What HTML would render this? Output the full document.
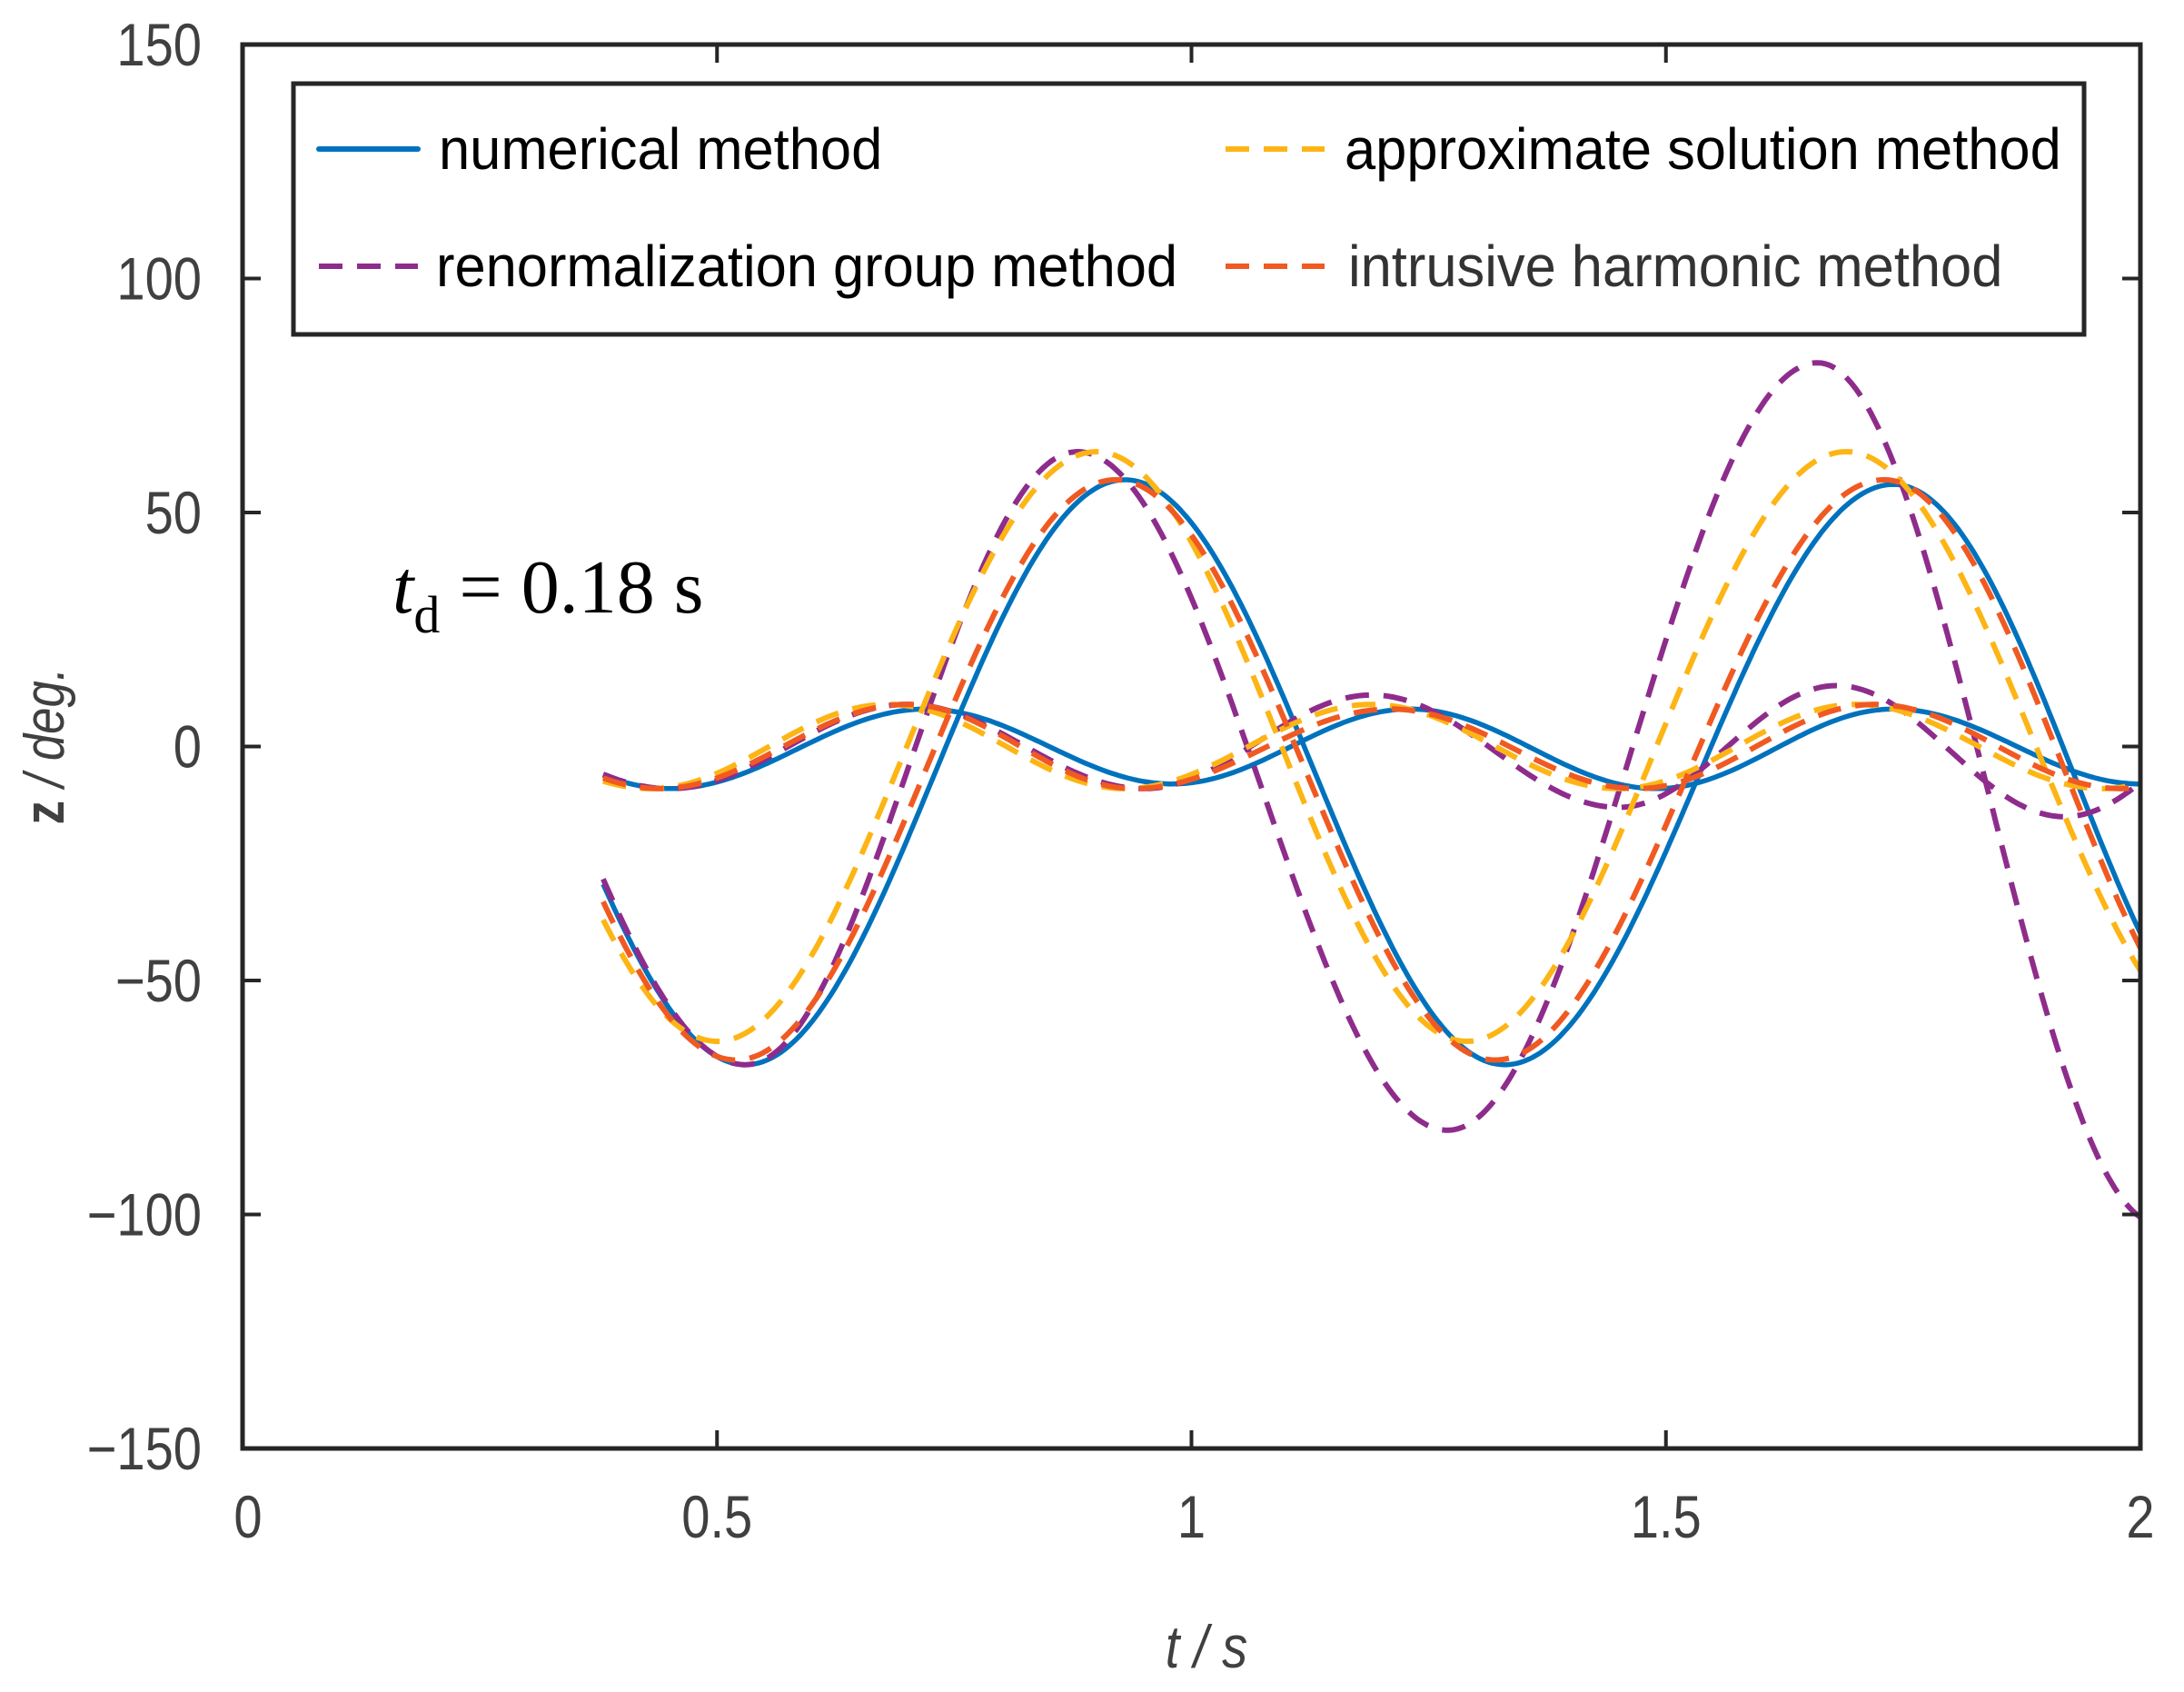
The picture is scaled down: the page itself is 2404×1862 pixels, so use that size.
<!DOCTYPE html>
<html><head><meta charset="utf-8"><style>
html,body{margin:0;padding:0;background:#fff}
svg{display:block}
</style></head><body>
<svg id="s" width="2404" height="1862" viewBox="0 0 2404 1862" xmlns="http://www.w3.org/2000/svg">
<rect width="2404" height="1862" fill="#fff"/>
<g id="curves"></g>
<g stroke="#262626" stroke-width="5" fill="none">
<rect x="267" y="49" width="2089" height="1545"/>
</g>
<g id="ticks" stroke="#262626" stroke-width="4"></g>
<g id="lbl" font-family="Liberation Sans, Arial, sans-serif" font-size="66" fill="#404040"></g>
<text transform="translate(1328,1835) scale(0.85,1)" font-family="Liberation Sans, Arial, sans-serif" font-size="66" fill="#404040" text-anchor="middle" font-style="italic">t / s</text>
<text transform="translate(70,821) rotate(-90) scale(0.85,1)" font-family="Liberation Sans, Arial, sans-serif" font-size="62" fill="#404040" text-anchor="middle"><tspan font-weight="bold">z</tspan><tspan font-style="italic"> / deg.</tspan></text>
<text x="432" y="674" font-family="Liberation Serif, Times New Roman, serif" font-size="84" fill="#000"><tspan font-style="italic">t</tspan><tspan font-size="58" dy="22">d</tspan><tspan dy="-22"> = 0.18 s</tspan></text>
<!-- legend -->
<rect x="323" y="92" width="1971" height="276" fill="#fff" stroke="#262626" stroke-width="5"/>
<g stroke-width="6" fill="none">
<line x1="351" y1="164" x2="460" y2="164" stroke="#0072BD" stroke-linecap="round"/>
<line x1="351" y1="293" x2="460" y2="293" stroke="#8E2C8C" stroke-dasharray="26,16"/>
<line x1="1349" y1="164" x2="1458" y2="164" stroke="#FDB515" stroke-dasharray="26,16"/>
<line x1="1349" y1="293" x2="1458" y2="293" stroke="#F05A22" stroke-dasharray="26,16"/>
</g>
<g font-family="Liberation Sans, Arial, sans-serif" font-size="64" fill="#000">
<text transform="translate(483,186) scale(0.96,1)">numerical method</text>
<text transform="translate(480,315) scale(0.96,1)">renormalization group method</text>
<text transform="translate(1480,186) scale(0.96,1)">approximate solution method</text>
<text transform="translate(1484,315) scale(0.96,1)" fill="#333">intrusive harmonic method</text>
</g>
</svg>
<script>
(function(){
var NS="http://www.w3.org/2000/svg";
function X(t){return 267+t*1044.5;}
function Y(z){return 821.5-z*5.15;}
var tk=document.getElementById('ticks');
function ln(x1,y1,x2,y2){var l=document.createElementNS(NS,'line');l.setAttribute('x1',x1);l.setAttribute('y1',y1);l.setAttribute('x2',x2);l.setAttribute('y2',y2);tk.appendChild(l);}
for(var v=-100;v<=100;v+=50){ln(267,Y(v),287,Y(v));ln(2356,Y(v),2336,Y(v));}
[0.5,1,1.5].forEach(function(t){ln(X(t),1594,X(t),1574);ln(X(t),49,X(t),69);});
var lb=document.getElementById('lbl');
function txt(s,x,y,anchor){var e=document.createElementNS(NS,'text');e.setAttribute('transform','translate('+x+','+y+') scale(0.85,1)');e.setAttribute('text-anchor',anchor);e.textContent=s;lb.appendChild(e);}
[150,100,50,0,-50,-100,-150].forEach(function(v){txt(v<0?'\u2212'+(-v):''+v,222,Y(v)+23,'end');});
[[0,'0'],[0.5,'0.5'],[1,'1'],[1.5,'1.5'],[2,'2']].forEach(function(a){txt(a[1],X(a[0])+(a[0]==0?6:0),1692,'middle');});
function val(ex,t){
 for(var i=0;i<ex.length-1;i++){
  var a=ex[i],b=ex[i+1];
  if(t>=a[0]&&t<=b[0]){var f=(t-a[0])/(b[0]-a[0]);return a[1]+(b[1]-a[1])*(1-Math.cos(Math.PI*f))/2;}
 }
 return ex[ex.length-1][1];
}
var g=document.getElementById('curves');
function curve(ex,color,dash){
 var d="";
 for(var t=0.38;t<=2.0001;t+=0.004){d+=(d?"L":"M")+X(t).toFixed(1)+","+Y(val(ex,t)).toFixed(1);}
 var p=document.createElementNS(NS,'path');p.setAttribute('d',d);p.setAttribute('fill','none');
 p.setAttribute('stroke',color);p.setAttribute('stroke-width',dash?6:5.5);
 if(dash)p.setAttribute('stroke-dasharray',dash);
 g.appendChild(p);
}
var blueL=[[0.13,57],[0.53,-68],[0.93,57],[1.33,-68],[1.74,56],[2.12,-68]];
var blueS=[[0.19,8],[0.45,-9],[0.72,8],[0.98,-8],[1.23,8],[1.49,-9],[1.74,8],[2.0,-8]];
var purL=[[0.14,55],[0.53,-68],[0.88,63],[1.27,-82],[1.66,82],[2.02,-102]];
var purS=[[0.2,8],[0.45,-9],[0.70,9],[0.95,-9],[1.19,11],[1.45,-13],[1.68,13],[1.92,-15],[2.15,12]];
var yelL=[[0.10,63],[0.50,-63],[0.90,63],[1.29,-63],[1.69,63],[2.09,-63]];
var yelS=[[0.17,9],[0.43,-9],[0.68,9],[0.93,-9],[1.19,9],[1.45,-9],[1.70,9],[1.96,-9],[2.2,9]];
var orL=[[0.12,57],[0.52,-67],[0.92,57],[1.32,-67],[1.73,57],[2.11,-67]];
var orS=[[0.18,9],[0.44,-9],[0.70,9],[0.94,-9],[1.21,8],[1.47,-9],[1.72,9],[1.98,-9],[2.2,9]];
curve(blueL,'#0072BD');curve(blueS,'#0072BD');
curve(purL,'#8E2C8C','26,16');curve(purS,'#8E2C8C','26,16');
curve(yelL,'#FDB515','26,16');curve(yelS,'#FDB515','26,16');
curve(orL,'#F05A22','26,16');curve(orS,'#F05A22','26,16');
})();
</script>
</body></html>
